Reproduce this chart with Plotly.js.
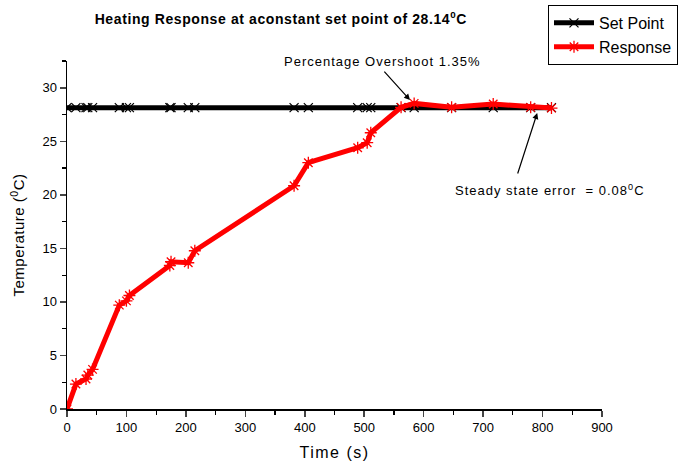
<!DOCTYPE html>
<html>
<head>
<meta charset="utf-8">
<script src="https://cdn.plot.ly/plotly-3.0.1.min.js"></script>
<style>
html,body{margin:0;padding:0;background:#fff}
#chart{width:690px;height:463px}
#chart .annotation-text{letter-spacing:1px}
#chart .g-xtitle text{letter-spacing:1.5px}
#chart .g-ytitle text{letter-spacing:0.5px}
#chart .gtitle{letter-spacing:0.6px}
</style>
</head>
<body>
<div id="chart"></div>
<script>
const timeS = [0, 15, 32, 35, 43, 88, 100, 105, 173, 175, 204, 215, 382, 406, 489, 505, 511, 562, 584, 647, 717, 780, 815];
const responseC = [0, 2.33, 2.8, 3.17, 3.7, 9.7, 10.1, 10.6, 13.4, 13.75, 13.66, 14.78, 20.85, 23.0, 24.4, 24.87, 25.8, 28.17, 28.54, 28.17, 28.48, 28.17, 28.1];
const setPointValue = 28.14;
const setPointC = timeS.map(() => setPointValue);
const xTicks = [0, 100, 200, 300, 400, 500, 600, 700, 800, 900];
const yTicks = [0, 5, 10, 15, 20, 25, 30];

const font = "Liberation Sans, Arial, sans-serif";

const traces = [
  {
    x: timeS, y: setPointC, name: "Set Point", mode: "lines+markers",
    line: {color: "#000", width: 5},
    marker: {symbol: "x-thin-open", size: 9, color: "#000", line: {color: "#000", width: 1.2}}
  },
  {
    x: timeS, y: responseC, name: "Response", mode: "lines+markers",
    line: {color: "#ff0000", width: 5},
    marker: {symbol: "asterisk-open", size: 10, color: "#ff0000", line: {color: "#ff0000", width: 1.3}}
  }
];

const layout = {
  width: 690, height: 463,
  margin: {l: 67, r: 88, t: 61, b: 54, autoexpand: false},
  paper_bgcolor: "#fff", plot_bgcolor: "#fff",
  font: {family: font, color: "#000", size: 13},
  title: {text: "<b>Heating Response at aconstant set point of 28.14<sup>0</sup>C</b>", x: 0.407, xanchor: "center", y: 0.958, yanchor: "middle", font: {size: 14, family: font}},
  xaxis: {
    range: [0, 900], tickvals: xTicks, ticks: "outside", ticklen: 6, tickwidth: 1.5,
    showline: true, linecolor: "#000", linewidth: 1.5, showgrid: false, zeroline: false,
    minor: {dtick: 50, ticks: "outside", ticklen: 4, tickwidth: 1.2, tickcolor: "#000", showgrid: false},
    tickfont: {size: 13}, title: {text: "Time (s)", font: {size: 16}, standoff: 12}
  },
  yaxis: {
    range: [0, 32.5], tickvals: yTicks, ticks: "outside", ticklen: 6, tickwidth: 1.5,
    showline: true, linecolor: "#000", linewidth: 1.5, showgrid: false, zeroline: false,
    minor: {dtick: 2.5, ticks: "outside", ticklen: 4, tickwidth: 1.2, tickcolor: "#000", showgrid: false},
    tickfont: {size: 13}, title: {text: "Temperature (<sup>0</sup>C)", font: {size: 15}, standoff: 14}
  },
  showlegend: true,
  legend: {
    x: -0.035, xanchor: "left", xref: "paper", y: 1.161, yanchor: "top",
    bordercolor: "#000", borderwidth: 1, bgcolor: "#fff",
    font: {size: 16, family: font}, tracegroupgap: 0, itemwidth: 40
  },
  annotations: [
    {x: 530, y: 32.45, xref: "x", yref: "y", text: "Percentage Overshoot 1.35%", showarrow: false, font: {size: 13}},
    {x: 577, y: 28.85, xref: "x", yref: "y", text: "", showarrow: true, ax: -27, ay: -30, arrowhead: 2, arrowsize: 1, arrowwidth: 1.2, arrowcolor: "#000"},
    {x: 812, y: 20.45, xref: "x", yref: "y", text: "Steady state error  = 0.08<sup>0</sup>C", showarrow: false, font: {size: 13}},
    {x: 791, y: 27.64, xref: "x", yref: "y", text: "", showarrow: true, ax: -20, ay: 62, arrowhead: 2, arrowsize: 1, arrowwidth: 1.2, arrowcolor: "#000"}
  ]
};
layout.legend.x = (548 - 67) / 535;

Plotly.newPlot("chart", traces, layout, {displayModeBar: false, staticPlot: true});
</script>
</body>
</html>
